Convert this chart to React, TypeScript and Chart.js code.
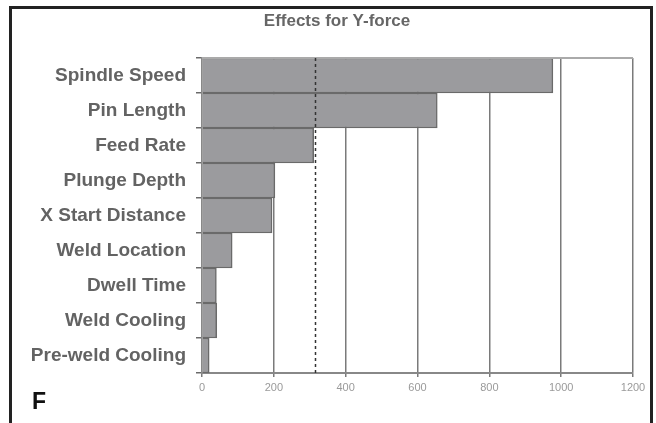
import React, { useEffect, useRef } from "react";
import { Chart, registerables } from "chart.js";

Chart.register(...registerables);

const CATEGORIES = [
  "Spindle Speed",
  "Pin Length",
  "Feed Rate",
  "Plunge Depth",
  "X Start Distance",
  "Weld Location",
  "Dwell Time",
  "Weld Cooling",
  "Pre-weld Cooling",
];
const EFFECTS = [977, 655, 311, 203, 195, 84, 40, 41, 20];
const X_TICKS = [0, 200, 400, 600, 800, 1000, 1200];
const REFERENCE_VALUE = 316;
const TITLE = "Effects for Y-force";
const PANEL_LABEL = "F";

const FONT = "'Liberation Sans', Arial, sans-serif";

const decorPlugin = {
  id: "decor",
  beforeDraw(chart: any) {
    const { ctx, width, height } = chart;
    ctx.save();
    ctx.fillStyle = "#ffffff";
    ctx.fillRect(0, 0, width, height);
    // outer frame (top, left, right)
    ctx.fillStyle = "#222222";
    ctx.fillRect(9, 6, 3, height);
    ctx.fillRect(9, 6, 644, 3);
    ctx.fillRect(650, 6, 3, height);
    // title
    ctx.fillStyle = "#666666";
    ctx.font = `bold 17px ${FONT}`;
    ctx.textAlign = "center";
    ctx.textBaseline = "alphabetic";
    ctx.fillText(TITLE, 337, 26);
    // panel letter
    ctx.fillStyle = "#111111";
    ctx.font = `bold 23px ${FONT}`;
    ctx.textAlign = "left";
    ctx.fillText(PANEL_LABEL, 32, 409);
    ctx.restore();
  },
  afterDatasetsDraw(chart: any) {
    const { ctx, chartArea, scales } = chart;
    const x = scales.x.getPixelForValue(REFERENCE_VALUE);
    ctx.save();
    // top border of plot
    ctx.strokeStyle = "#aaaaaa";
    ctx.lineWidth = 2;
    ctx.beginPath();
    ctx.moveTo(chartArea.left, chartArea.top);
    ctx.lineTo(chartArea.right, chartArea.top);
    ctx.stroke();
    // reference dashed line
    ctx.strokeStyle = "#333333";
    ctx.lineWidth = 1.5;
    ctx.setLineDash([3, 3]);
    ctx.beginPath();
    ctx.moveTo(x, chartArea.top);
    ctx.lineTo(x, chartArea.bottom);
    ctx.stroke();
    ctx.restore();
  },
};

export default function App() {
  const canvasRef = useRef<HTMLCanvasElement | null>(null);

  useEffect(() => {
    if (!canvasRef.current) return;
    const chart = new Chart(canvasRef.current, {
      type: "bar",
      data: {
        labels: CATEGORIES,
        datasets: [
          {
            data: EFFECTS,
            backgroundColor: "#9b9b9e",
            borderColor: "#6a6a6a",
            borderWidth: 1.5,
            borderSkipped: "start",
            categoryPercentage: 1,
            barPercentage: 1,
          },
        ],
      },
      options: {
        indexAxis: "y",
        animation: false,
        responsive: false,
        maintainAspectRatio: false,
        layout: { padding: { left: 0, right: 23, top: 58, bottom: 0 } },
        plugins: {
          legend: { display: false },
          title: { display: false },
          tooltip: { enabled: false },
        },
        scales: {
          x: {
            type: "linear",
            min: 0,
            max: 1200,
            afterBuildTicks: (scale: any) => {
              scale.ticks = X_TICKS.map((v) => ({ value: v }));
            },
            afterFit: (scale: any) => {
              scale.height = 50;
            },
            grid: {
              color: "#7a7a7a",
              lineWidth: 1.5,
              drawTicks: true,
              tickLength: 4,
              tickColor: "#7a7a7a",
            },
            border: { display: true, color: "#888888", width: 2 },
            ticks: {
              color: "#9a9a9a",
              font: { family: FONT, size: 11 },
              padding: 4,
              maxRotation: 0,
              autoSkip: false,
              callback: (value: any) => String(value),
            },
          },
          y: {
            type: "category",
            afterFit: (scale: any) => {
              scale.width = 202;
            },
            grid: {
              drawOnChartArea: false,
              drawTicks: true,
              tickLength: 6,
              tickColor: "#6a6a6a",
              lineWidth: 1.5,
              offset: true,
            },
            border: { display: true, color: "#888888", width: 1.5 },
            ticks: {
              color: "#636363",
              font: { family: FONT, size: 19, weight: "bold" },
              padding: 10,
              autoSkip: false,
            },
          },
        },
      },
      plugins: [decorPlugin],
    });
    return () => chart.destroy();
  }, []);

  return (
    <div
      style={{
        position: "fixed",
        left: 0,
        top: 0,
        width: 656,
        height: 423,
        background: "#fff",
      }}
    >
      <canvas ref={canvasRef} width={656} height={423} style={{ width: 656, height: 423, display: "block" }} />
    </div>
  );
}
